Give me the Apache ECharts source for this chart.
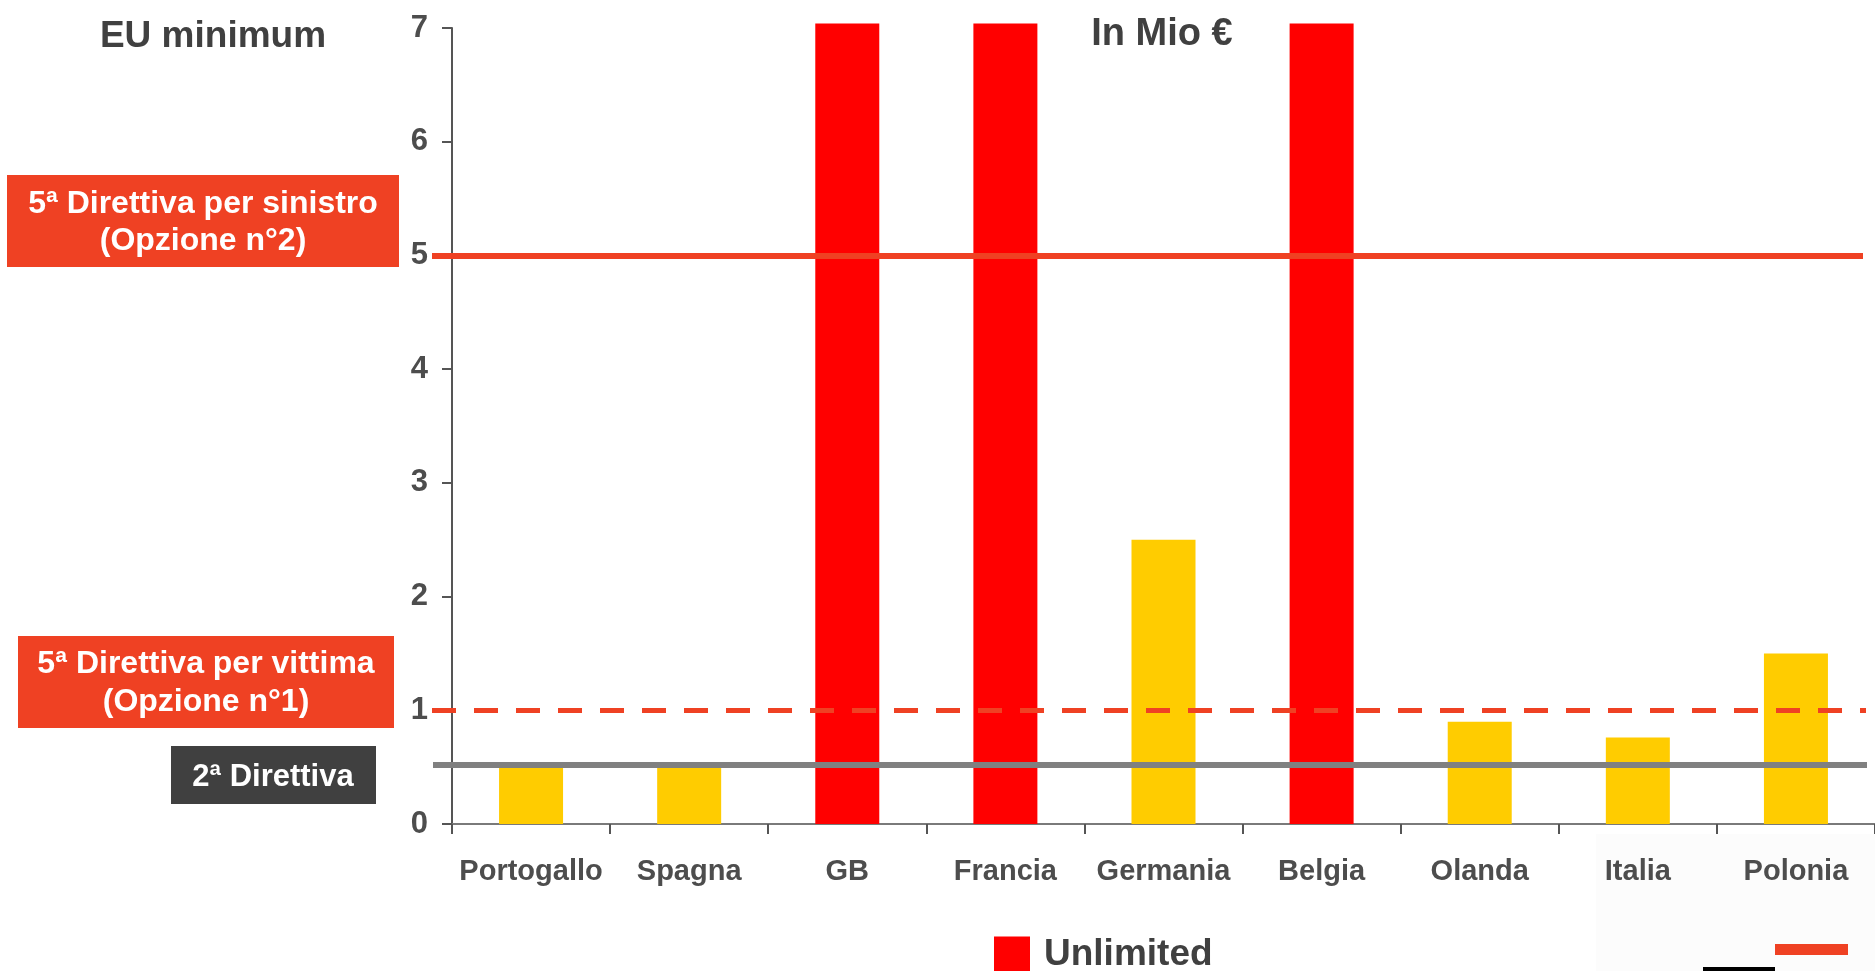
<!DOCTYPE html>
<html>
<head>
<meta charset="utf-8">
<script src="https://cdn.jsdelivr.net/npm/echarts@6/dist/echarts.min.js"></script>
<style>
html,body{margin:0;padding:0;background:#fff;}
#chart{width:1875px;height:971px;}
</style>
</head>
<body>
<div id="chart"></div>
<script>
// ---- data ----
var categories = ['Portogallo', 'Spagna', 'GB', 'Francia', 'Germania', 'Belgia', 'Olanda', 'Italia', 'Polonia'];
var limitedValues = [0.5, 0.5, null, null, 2.5, null, 0.9, 0.76, 1.5];
var unlimitedValues = [null, null, 7.04, 7.04, null, 7.04, null, null, null];
var directive2Level = 0.52;       // 2ª Direttiva
var directive5VictimLevel = 1;    // 5ª Direttiva per vittima
var directive5ClaimLevel = 5;     // 5ª Direttiva per sinistro
var yTicks = { min: 0, max: 7, interval: 1 };

var FONT = 'Arial, "Liberation Sans", sans-serif';
var ORANGE = '#EF4123';

var chart = echarts.init(document.getElementById('chart'));

function hLine(level, x0, x1, color, width, type) {
  return [
    { x: x0, yAxis: level, lineStyle: { color: color, width: width, type: type } },
    { x: x1, yAxis: level }
  ];
}

var option = {
  backgroundColor: '#ffffff',
  animation: false,
  grid: { left: 452, right: -9, top: 28, bottom: 147, containLabel: false },
  legend: {
    data: ['Unlimited'],
    left: 994, top: 936,
    padding: 0,
    itemWidth: 36, itemHeight: 36,
    icon: 'rect',
    selectedMode: false,
    textStyle: { fontFamily: FONT, fontSize: 37, fontWeight: 'bold', color: '#404040', padding: [0, 0, 0, 9] }
  },
  xAxis: {
    type: 'category',
    data: categories,
    boundaryGap: true,
    axisLine: { lineStyle: { color: '#7a7a7a', width: 2 } },
    axisTick: { show: true, length: 10, lineStyle: { color: '#555555', width: 2 } },
    axisLabel: { fontFamily: FONT, fontSize: 29, fontWeight: 'bold', color: '#4d4d4d', margin: 33, interval: 0 },
    splitLine: { show: false }
  },
  yAxis: {
    type: 'value',
    min: yTicks.min, max: yTicks.max, interval: yTicks.interval,
    axisLine: { show: true, lineStyle: { color: '#555555', width: 2 } },
    axisTick: { show: true, length: 10, lineStyle: { color: '#555555', width: 2 } },
    axisLabel: { fontFamily: FONT, fontSize: 31, fontWeight: 'bold', color: '#4d4d4d', margin: 24 },
    splitLine: { show: false }
  },
  series: [
    {
      name: 'Limited',
      type: 'bar',
      data: limitedValues,
      barWidth: 64,
      barGap: '-100%',
      itemStyle: { color: '#FFCC00' },
      clip: false
    },
    {
      name: 'Unlimited',
      type: 'bar',
      data: unlimitedValues,
      barWidth: 64,
      barGap: '-100%',
      itemStyle: { color: '#FF0000' },
      clip: false,
      markLine: {
        silent: true,
        symbol: ['none', 'none'],
        label: { show: false },
        animation: false,
        data: [
          hLine(directive2Level, 433, 1867, '#808080', 6, 'solid'),
          hLine(directive5VictimLevel, 432, 1866, ORANGE, 5, [24, 18]),
          hLine(directive5ClaimLevel, 432, 1863, ORANGE, 6, 'solid')
        ]
      }
    }
  ],
  graphic: [
    { type: 'rect', z: -10, shape: { x: 1596, y: 834, width: 300, height: 150 }, style: { fill: '#fcfcfc' } },
    { type: 'text', x: 213, y: 37, style: { text: 'EU minimum', fontFamily: FONT, fontSize: 37, fontWeight: 'bold', fill: '#404040', textAlign: 'center', textVerticalAlign: 'middle' } },
    { type: 'text', x: 1162, y: 35, style: { text: 'In Mio €', fontFamily: FONT, fontSize: 38, fontWeight: 'bold', fill: '#404040', textAlign: 'center', textVerticalAlign: 'middle' } },
    { type: 'rect', shape: { x: 7, y: 175, width: 392, height: 92 }, style: { fill: ORANGE } },
    { type: 'text', x: 203, y: 223, style: { text: '5ª Direttiva per sinistro\n(Opzione n°2)', fontFamily: FONT, fontSize: 32, fontWeight: 'bold', fill: '#ffffff', textAlign: 'center', textVerticalAlign: 'middle', lineHeight: 37 } },
    { type: 'rect', shape: { x: 18, y: 636, width: 376, height: 92 }, style: { fill: ORANGE } },
    { type: 'text', x: 206, y: 683, style: { text: '5ª Direttiva per vittima\n(Opzione n°1)', fontFamily: FONT, fontSize: 32, fontWeight: 'bold', fill: '#ffffff', textAlign: 'center', textVerticalAlign: 'middle', lineHeight: 38 } },
    { type: 'rect', shape: { x: 171, y: 746, width: 205, height: 58 }, style: { fill: '#404040' } },
    { type: 'text', x: 273, y: 777, style: { text: '2ª Direttiva', fontFamily: FONT, fontSize: 31, fontWeight: 'bold', fill: '#ffffff', textAlign: 'center', textVerticalAlign: 'middle' } },
    { type: 'rect', shape: { x: 1775, y: 944, width: 73, height: 11 }, style: { fill: ORANGE } },
    { type: 'rect', shape: { x: 1703, y: 967, width: 72, height: 6 }, style: { fill: '#000000' } }
  ]
};
chart.setOption(option);
</script>
</body>
</html>
